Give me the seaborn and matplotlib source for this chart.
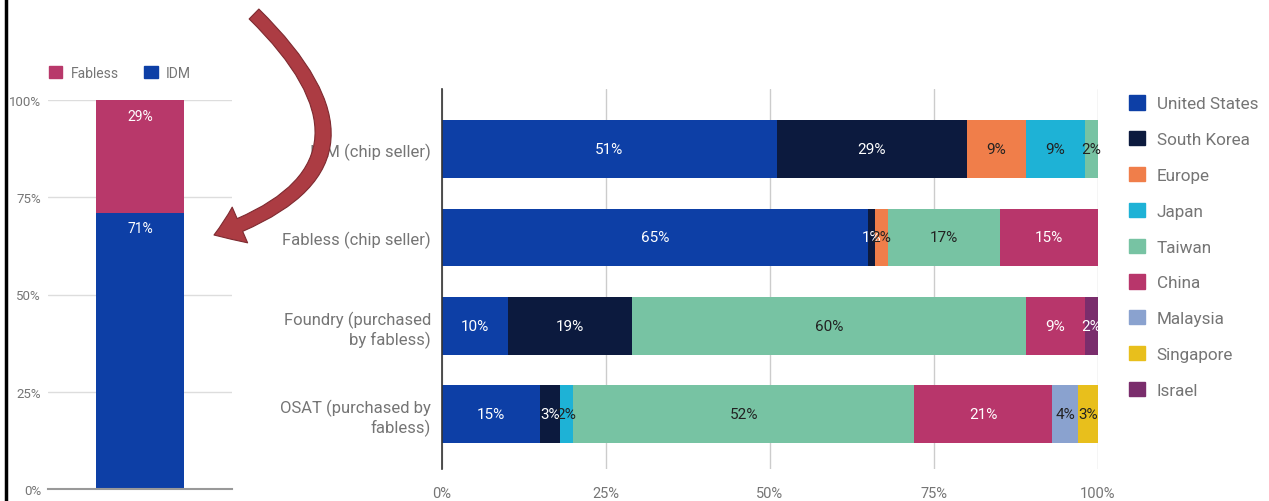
import numpy as np
import matplotlib.pyplot as plt
from matplotlib.patches import Patch, FancyArrowPatch
from matplotlib.lines import Line2D
from matplotlib.path import Path
from matplotlib.ticker import PercentFormatter
import seaborn as sns

sns.set_theme(style="white")
plt.rcParams['font.family'] = ['Roboto', 'DejaVu Sans']

# Right chart: share of value added by region, per segment (%)
segments = ["IDM (chip seller)", "Fabless (chip seller)",
            "Foundry (purchased\nby fabless)", "OSAT (purchased by\nfabless)"]
countries = ["United States", "South Korea", "Europe", "Japan", "Taiwan",
             "China", "Malaysia", "Singapore", "Israel"]
us = [51, 65, 10, 15]
korea = [29, 1, 19, 3]
europe = [9, 2, 0, 0]
japan = [9, 0, 0, 2]
taiwan = [2, 17, 60, 52]
china = [0, 15, 9, 21]
malaysia = [0, 0, 0, 4]
singapore = [0, 0, 0, 3]
israel = [0, 0, 2, 0]

# Left chart: chip sellers split
seller_types = ["Fabless", "IDM"]
seller_share = [29, 71]

colors = ["#0d3fa6", "#0c1a3e", "#f07e4a", "#1eb2d6", "#77c3a3",
          "#b8366b", "#8aa2cf", "#e8bf1c", "#7a2d6c"]
text_colors = ["white", "white", "#222222", "#222222", "#222222",
               "white", "#222222", "#222222", "white"]
seller_colors = ["#b8386a", "#0d3fa6"]

grey = "#757575"

fig = plt.figure(figsize=(12.69, 5.02), dpi=100)

def fx(px):
    return px / 1269

def fy(py):
    return 1 - py / 502

# ---- left chart
ax1 = fig.add_axes([fx(48), fy(490), 184/1269, 389/502])
cum_seller = np.cumsum(seller_share[::-1])[::-1] / 100  # Fabless top, IDM bottom
for k in range(len(seller_types)):
    sns.barplot(x=["all"], y=[cum_seller[k]], color=seller_colors[k], width=0.48,
                saturation=1, linewidth=0, ax=ax1)
ax1.set_ylim(0, 1)
ax1.set_xlim(-0.5, 0.5)
ax1.set_yticks([0, 0.25, 0.5, 0.75, 1.0])
ax1.yaxis.set_major_formatter(PercentFormatter(1.0, decimals=0))
ax1.tick_params(axis='y', labelsize=9.5, labelcolor=grey, length=0, pad=5)
ax1.set_xticks([])
ax1.set_xlabel("")
ax1.set_ylabel("")
ax1.grid(axis='y', color='#dddddd', linewidth=1)
ax1.set_axisbelow(True)
for s in ["left", "right", "top"]:
    ax1.spines[s].set_visible(False)
ax1.spines["bottom"].set_color("#999999")
ax1.spines["bottom"].set_linewidth(1.5)
for k in range(len(seller_types)):
    ax1.text(0, cum_seller[k] - 0.022, f"{seller_share[k]}%", ha='center', va='top',
             color='white', fontsize=10)
fig.legend(handles=[Patch(color=c) for c in seller_colors], labels=seller_types,
           loc='center left', bbox_to_anchor=(fx(36), fy(74)), ncol=2,
           frameon=False, fontsize=10, labelcolor=grey, handlelength=1.0,
           handleheight=1.0, handletextpad=0.6, columnspacing=1.8)

# ---- right chart
ax2 = fig.add_axes([fx(442), fy(470), 656/1269, 380/502])
shares = np.array([us, korea, europe, japan, taiwan, china, malaysia, singapore, israel]) / 100
cum = shares.cumsum(axis=0)
for i in reversed(range(len(countries))):
    sns.barplot(x=cum[i], y=segments, orient='h', color=colors[i], width=0.65,
                saturation=1, linewidth=0, ax=ax2)
for i in range(len(countries)):
    for j in range(len(segments)):
        v = shares[i, j]
        if v > 0:
            ax2.text(cum[i, j] - v / 2, j, f"{round(v * 100)}%", ha='center', va='center',
                     color=text_colors[i], fontsize=11)
ax2.set_xlim(0, 1)
ax2.set_ylim(3.62, -0.68)
ax2.set_xticks([0, 0.25, 0.5, 0.75, 1.0])
ax2.xaxis.set_major_formatter(PercentFormatter(1.0, decimals=0))
ax2.tick_params(axis='x', labelsize=10.5, labelcolor=grey, length=0, pad=12)
ax2.tick_params(axis='y', labelsize=12, labelcolor=grey, length=0, pad=8)
ax2.set_xlabel("")
ax2.set_ylabel("")
ax2.grid(axis='x', color='#cccccc', linewidth=1)
ax2.set_axisbelow(True)
for s in ["right", "top", "bottom"]:
    ax2.spines[s].set_visible(False)
ax2.spines["left"].set_color("#333333")
ax2.spines["left"].set_linewidth(1.2)
for lab in ax2.get_yticklabels():
    lab.set_multialignment('right')

fig.legend(handles=[Patch(color=c) for c in colors], labels=countries,
           loc='upper left', bbox_to_anchor=(fx(1114), fy(81)),
           frameon=False, fontsize=12.3, labelcolor=grey, handlelength=0.9,
           handleheight=0.9, handletextpad=0.7, labelspacing=1.16)

# ---- curved arrow from the IDM/Fabless split to the chip seller rows
arrow_path = Path([(fx(254), fy(15)), (fx(410), fy(168)), (fx(214), fy(236))],
                  [Path.MOVETO, Path.CURVE3, Path.CURVE3])
arrow = FancyArrowPatch(path=arrow_path, transform=fig.transFigure,
                        arrowstyle="simple,head_width=28,head_length=20,tail_width=10",
                        facecolor="#ac3c43", edgecolor="#7e2a30", linewidth=0.8,
                        mutation_scale=1, zorder=10)
fig.patches.append(arrow)

# frame line on the left edge
fig.add_artist(Line2D([fx(6), fx(6)], [0, 1], transform=fig.transFigure,
                      color="black", linewidth=2.5))

plt.savefig("out.png", dpi=100)
